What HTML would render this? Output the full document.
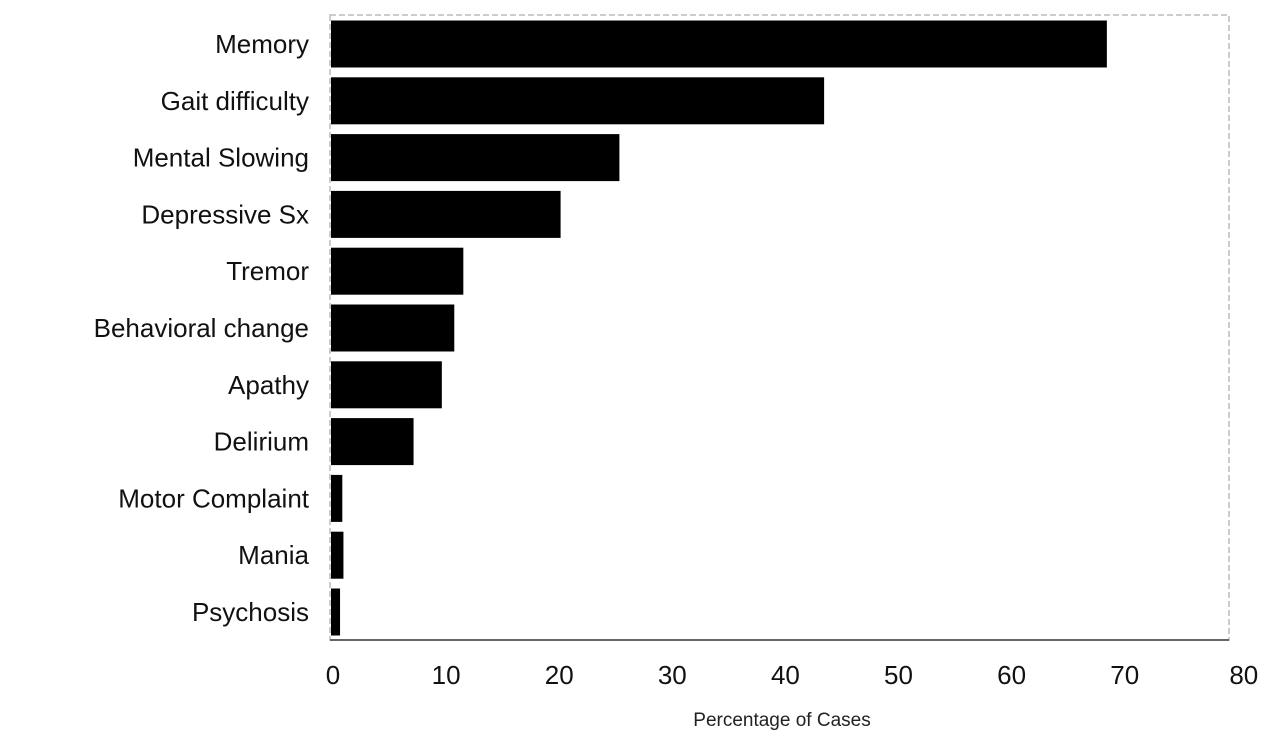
<!DOCTYPE html>
<html><head><meta charset="utf-8"><style>
body{margin:0;background:#fff;width:1270px;height:743px;overflow:hidden}
svg{font-family:"Liberation Sans",sans-serif}
</style></head><body>
<svg id="chart" width="1270" height="743">
<rect x="330" y="15" width="899" height="625" fill="none" stroke="#bbb" stroke-width="1.5" stroke-dasharray="6,3"/>
<line x1="330" y1="640" x2="1229" y2="640" stroke="#666" stroke-width="2"/>
<g id="bars"></g><g id="ylabels"></g><g id="xticks"></g>
<text x="782" y="726" font-size="19" text-anchor="middle" fill="#222">Percentage of Cases</text>
</svg>
<script>
const categories=["Memory","Gait difficulty","Mental Slowing","Depressive Sx","Tremor","Behavioral change","Apathy","Delirium","Motor Complaint","Mania","Psychosis"];
const values=[68.6,43.6,25.5,20.3,11.7,10.9,9.8,7.3,1.0,1.1,0.8];
const tickLabels=[0,10,20,30,40,50,60,70,80];
const NS="http://www.w3.org/2000/svg";
const x0=331,xs=11.31,yTop=44,yStep=56.8,bh=47;
function xScale(v){return x0+v*xs;}
function yCenter(i){return yTop+i*yStep;}
const bars=document.getElementById('bars'),yl=document.getElementById('ylabels'),xt=document.getElementById('xticks');
categories.forEach((c,i)=>{
 const r=document.createElementNS(NS,'rect');
 r.setAttribute('x',x0);r.setAttribute('y',yCenter(i)-bh/2);
 r.setAttribute('width',xScale(values[i])-x0);r.setAttribute('height',bh);r.setAttribute('fill','#000');
 
 
 bars.appendChild(r);
 const t=document.createElementNS(NS,'text');
 t.setAttribute('x',309);t.setAttribute('y',yCenter(i)+9);t.setAttribute('text-anchor','end');
 t.setAttribute('font-size','26');t.setAttribute('fill','#111');t.textContent=c;
 
 
 yl.appendChild(t);
});
tickLabels.forEach(v=>{
 const t=document.createElementNS(NS,'text');
 t.setAttribute('x',xScale(v)+(v===80?8:2));t.setAttribute('y',684);t.setAttribute('text-anchor','middle');
 t.setAttribute('font-size','26');t.setAttribute('fill','#111');t.textContent=v;
 
 
 xt.appendChild(t);
});
</script>
</body></html>
